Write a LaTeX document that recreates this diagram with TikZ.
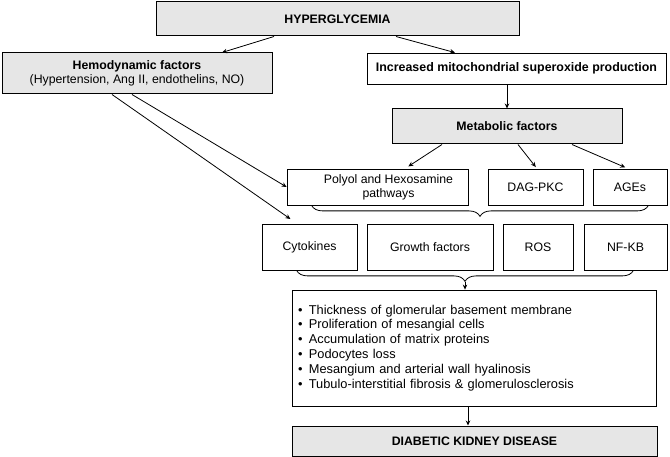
\documentclass[tikz,border=0pt]{standalone}
\usepackage{fontspec}
\setmainfont{Liberation Sans}
\usepackage{tikz}
\usetikzlibrary{arrows.meta,positioning,decorations.pathreplacing,calc}
\usepackage{xcolor}
\definecolor{boxgray}{HTML}{E6E6E6}

\begin{document}
\begin{tikzpicture}[x=1pt, y=-1pt,
  box/.style={draw, line width=0.8pt, inner sep=2pt, align=center,
    font=\fontsize{12.3}{14}\selectfont},
  greybox/.style={box, fill=boxgray, line width=1pt},
  arr/.style={-{Stealth[length=5pt, width=4.5pt]}, line width=0.8pt},
  bracket/.style={decorate, line width=0.8pt, decoration={brace, amplitude=11pt, mirror}}]
  \useasboundingbox (0,0) rectangle (670,457);

  % Top of the chart
  \node[greybox, minimum width=363pt, minimum height=34pt, font=\fontsize{12.3}{14}\selectfont\bfseries]
    (hyper) at (337.5,19) {HYPERGLYCEMIA};
  \node[greybox, minimum width=270pt, minimum height=41pt] (hemo) at (137,73.5)
    {\textbf{Hemodynamic factors}\\(Hypertension, Ang II, endothelins, NO)};
  \node[box, minimum width=299pt, minimum height=31pt, font=\fontsize{12.4}{14}\selectfont\bfseries]
    (mito) at (516.5,68.5) {Increased mitochondrial superoxide production};
  \node[greybox, minimum width=230pt, minimum height=35pt, font=\fontsize{12.3}{14}\selectfont\bfseries]
    (meta) at (507,126.5) {Metabolic factors};

  % Metabolic pathways
  \node[box, minimum width=181pt, minimum height=36pt] (polyol) at (377.5,187)
    {\hspace*{22pt}Polyol and Hexosamine\\\hspace*{22pt}pathways};
  \foreach \name/\txt/\x/\w in {dag/DAG-PKC/535.5/95, ages/AGEs/630/74} {
    \node[box, minimum width=\w pt, minimum height=36pt] (\name) at (\x,187) {\txt};
  }

  % Mediators
  \foreach \name/\txt/\x/\w in {
    cyto/Cytokines/309.5/95,
    growth/Growth factors/430/126,
    ros/ROS/538/70,
    nfkb/NF-KB/625.5/83%
  } {
    \node[box, minimum width=\w pt, minimum height=46pt] (\name) at (\x,247) {\txt};
  }

  % Renal lesions and outcome
  \node[box, minimum width=364pt, minimum height=116pt, text width=352pt, align=left,
    font=\fontsize{12.8}{14.9}\selectfont] (effects) at (474,348)
    {\textbullet\enspace Thickness of glomerular basement membrane\\
     \textbullet\enspace Proliferation of mesangial cells\\
     \textbullet\enspace Accumulation of matrix proteins\\
     \textbullet\enspace Podocytes loss\\
     \textbullet\enspace Mesangium and arterial wall hyalinosis\\
     \textbullet\enspace Tubulo-interstitial fibrosis \& glomerulosclerosis};
  \node[greybox, minimum width=365pt, minimum height=30pt, font=\fontsize{12.3}{14}\selectfont\bfseries]
    (dkd) at (474.5,441) {DIABETIC KIDNEY DISEASE};

  % Arrows
  \draw[arr] ([xshift=-63.5pt]hyper.south) -- ([xshift=85pt]hemo.north);
  \draw[arr] ([xshift=58.5pt]hyper.south) -- ([xshift=-61.5pt]mito.north);
  \draw[arr] (meta.north |- mito.south) -- (meta.north);
  \draw[arr, shorten >=4pt] ([xshift=-65pt]meta.south) -- ([xshift=27.5pt]polyol.north);
  \draw[arr, shorten >=2pt] ([xshift=11pt]meta.south) -- ([xshift=1.5pt]dag.north);
  \draw[arr, shorten >=3pt] ([xshift=65pt]meta.south) -- ([xshift=-2pt]ages.north);
  \draw[arr] ([xshift=-5pt]hemo.south) -- (polyol.west);
  \draw[arr, shorten >=8pt] ([xshift=-25pt]hemo.south) -- ([xshift=-12.5pt]cyto.north);

  % Braces
  \draw[bracket] ([xshift=25pt]polyol.south west) -- ([xshift=-19pt]ages.south east);
  \draw[bracket] ([xshift=35pt]cyto.south west) -- ([xshift=-34pt]nfkb.south east)
    coordinate[midway, yshift=-12pt] (tipb);
  \draw[arr] (tipb) -- (tipb |- effects.north);
  \draw[arr] ([xshift=-6pt]effects.south) -- ([xshift=-6pt]effects.south |- dkd.north);
\end{tikzpicture}
\end{document}
